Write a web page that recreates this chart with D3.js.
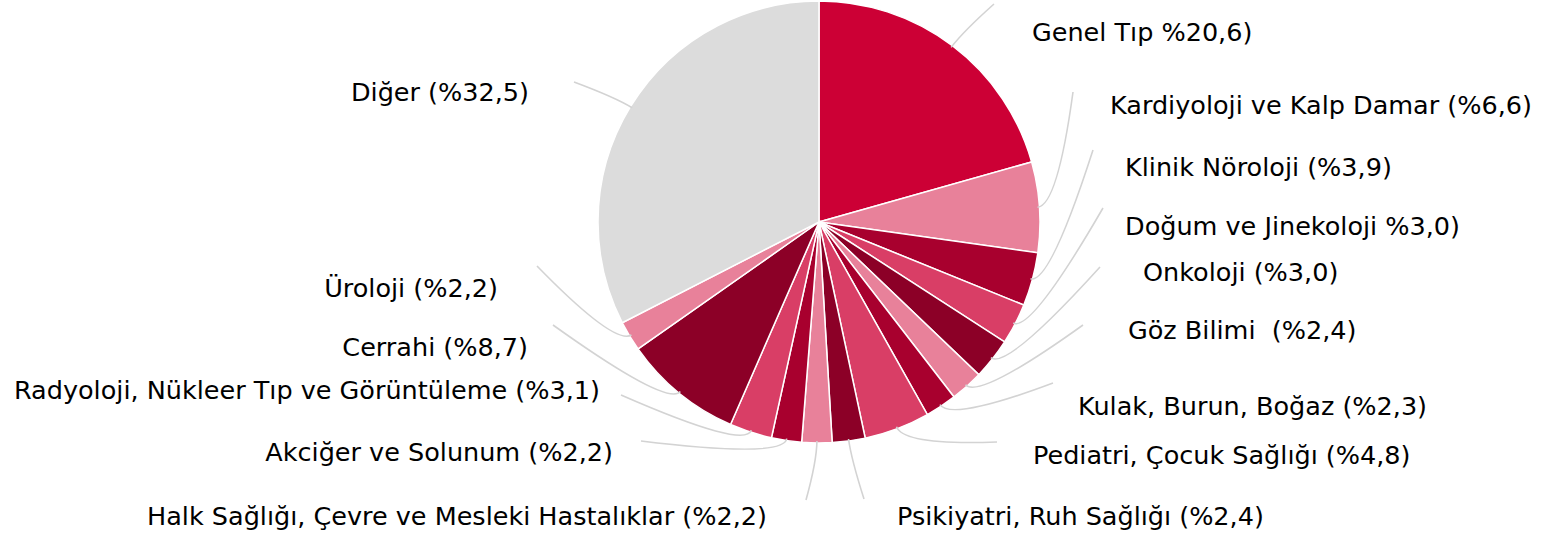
<!DOCTYPE html>
<html>
<head>
<meta charset="utf-8">
<script src="https://cdn.jsdelivr.net/npm/d3@7"></script>
<style>
  body { margin: 0; background: #fff; }
  svg text { font-family: "DejaVu Sans", sans-serif; fill: #000; }
</style>
</head>
<body>
<div id="chart"></div>
<script>
/* Pie chart: specialties share */

const labels = [
    "Genel Tıp %20,6)",
    "Kardiyoloji ve Kalp Damar (%6,6)",
    "Klinik Nöroloji (%3,9)",
    "Doğum ve Jinekoloji %3,0)",
    "Onkoloji (%3,0)",
    "Göz Bilimi  (%2,4)",
    "Kulak, Burun, Boğaz (%2,3)",
    "Pediatri, Çocuk Sağlığı (%4,8)",
    "Psikiyatri, Ruh Sağlığı (%2,4)",
    "Halk Sağlığı, Çevre ve Mesleki Hastalıklar (%2,2)",
    "Akciğer ve Solunum (%2,2)",
    "Radyoloji, Nükleer Tıp ve Görüntüleme (%3,1)",
    "Cerrahi (%8,7)",
    "Üroloji (%2,2)",
    "Diğer (%32,5)"
];

const values = [20.6, 6.6, 3.9, 3.0, 3.0, 2.4, 2.3, 4.8, 2.4, 2.2, 2.2, 3.1, 8.7, 2.2, 32.5];

const colors = ["#cc0035", "#e8819a", "#a8002e", "#d93e66", "#8c0027", "#e8819a", "#a8002e",
                "#d93e66", "#8c0027", "#e8819a", "#a8002e", "#d93e66", "#8c0027", "#e8819a", "#dcdcdc"];

// label anchor [x, y, anchor] and leader line end [x, y]
const labelPos = [
    [1032, 41, "start"], [1110, 114, "start"], [1125, 176, "start"], [1125, 235, "start"],
    [1143, 281, "start"], [1128, 339, "start"], [1078, 415, "start"], [1033, 464, "start"],
    [897, 525, "start"], [767, 525, "end"], [613, 461, "end"], [600, 399, "end"],
    [528, 356, "end"], [498, 297, "end"], [529, 101, "end"]
];
const lineEnds = [
    [994, 4], [1073, 92], [1093, 150], [1103, 208], [1100, 267], [1083, 325], [1053, 383],
    [997, 442], [864, 499], [806, 500], [641, 441], [621, 395], [553, 325], [537, 266], [574, 82]
];

const width = 1541,
    height = 536,
    cx = 819,
    cy = 222,
    radius = 221;

let data = labels.map((l, i) => ({label: l, value: values[i], color: colors[i], i: i}));

let svg = d3.select("#chart")
    .append("svg")
    .attr("width", width)
    .attr("height", height)
    .attr("viewBox", [0, 0, width, height]);

let pie = d3.pie()
    .value(d => d.value)
    .sort(null);

let arc = d3.arc()
    .innerRadius(0)
    .outerRadius(radius);

let arcs = pie(data);

let g = svg.append("g")
    .attr("transform", `translate(${cx},${cy})`);

// leader lines
let pt = (a, r) => [cx + r * Math.sin(a), cy - r * Math.cos(a)];

svg.append("g")
    .selectAll("path")
    .data(arcs)
    .join("path")
    .attr("fill", "none")
    .attr("stroke", "#d3d3d3")
    .attr("stroke-width", 1.6)
    .attr("d", d => {
        let a = (d.startAngle + d.endAngle) / 2;
        let p0 = pt(a, radius - 2);
        let p1 = pt(a, radius + 18);
        let p2 = lineEnds[d.data.i];
        return `M${p0[0]},${p0[1]}Q${p1[0]},${p1[1]} ${p2[0]},${p2[1]}`;
    });

g.selectAll("path")
    .data(arcs)
    .join("path")
    .attr("fill", d => d.data.color)
    .attr("stroke", "#fff")
    .attr("stroke-width", 1.5)
    .attr("d", arc);

svg.append("g")
    .selectAll("text")
    .data(data)
    .join("text")
    .attr("x", d => labelPos[d.i][0])
    .attr("y", d => labelPos[d.i][1])
    .attr("text-anchor", d => labelPos[d.i][2])
    .attr("font-size", 25.5)
    .style("white-space", "pre")
    .text(d => d.label);
</script>
</body>
</html>
